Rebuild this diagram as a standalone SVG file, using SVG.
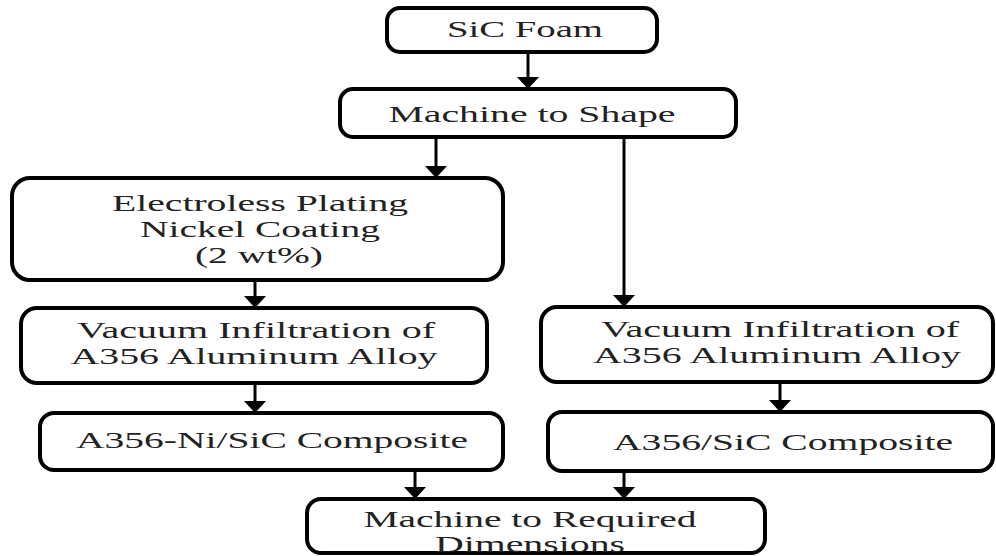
<svg xmlns="http://www.w3.org/2000/svg" width="996" height="556" viewBox="0 0 996 556">
<style>
.box{fill:#fff;stroke:#000;stroke-width:4}
.t{font-family:"Liberation Serif","Times New Roman",serif;font-size:24px;fill:#222;text-anchor:middle}
.c{stroke:#000;stroke-width:3;fill:none}
</style>
<defs>
<marker id="ah" viewBox="0 0 12 22" refX="12" refY="11" markerWidth="12" markerHeight="22" markerUnits="userSpaceOnUse" orient="auto">
<path d="M0,0 L12,11 L0,22 z" fill="#000"/>
</marker>
</defs>
<rect width="996" height="556" fill="#fff"/>
<g id="connectors">
<line class="c" x1="528" y1="52" x2="528" y2="89" marker-end="url(#ah)"/>
<line class="c" x1="436" y1="137" x2="436" y2="178" marker-end="url(#ah)"/>
<line class="c" x1="624" y1="137" x2="624" y2="307" marker-end="url(#ah)"/>
<line class="c" x1="255" y1="280" x2="255" y2="308" marker-end="url(#ah)"/>
<line class="c" x1="255" y1="383" x2="255" y2="413" marker-end="url(#ah)"/>
<line class="c" x1="780" y1="382" x2="780" y2="412" marker-end="url(#ah)"/>
<line class="c" x1="415" y1="470" x2="415" y2="499" marker-end="url(#ah)"/>
<line class="c" x1="624" y1="471" x2="624" y2="499" marker-end="url(#ah)"/>
</g>
<g id="sic-foam">
<rect class="box" x="387" y="8" width="270" height="44" rx="13"/>
<text class="t" x="525" y="37" font-size="22" textLength="156" lengthAdjust="spacingAndGlyphs">SiC Foam</text>
</g>
<g id="machine-to-shape">
<rect class="box" x="340" y="89" width="396" height="48" rx="13"/>
<text class="t" x="532" y="122" textLength="287" lengthAdjust="spacingAndGlyphs">Machine to Shape</text>
</g>
<g id="electroless">
<rect class="box" x="12" y="178" width="491" height="102" rx="18"/>
<text class="t" x="260" y="211" textLength="296" lengthAdjust="spacingAndGlyphs">Electroless Plating</text>
<text class="t" x="260" y="237" textLength="240" lengthAdjust="spacingAndGlyphs">Nickel Coating</text>
<text class="t" x="259" y="263" textLength="128" lengthAdjust="spacingAndGlyphs">(2 wt%)</text>
</g>
<g id="vacuum-left">
<rect class="box" x="21" y="308" width="466" height="75" rx="16"/>
<text class="t" x="256" y="338" textLength="358" lengthAdjust="spacingAndGlyphs">Vacuum Infiltration of</text>
<text class="t" x="254" y="364" textLength="367" lengthAdjust="spacingAndGlyphs">A356 Aluminum Alloy</text>
</g>
<g id="composite-ni">
<rect class="box" x="40" y="413" width="463" height="57" rx="14"/>
<text class="t" x="272" y="448" textLength="392" lengthAdjust="spacingAndGlyphs">A356-Ni/SiC Composite</text>
</g>
<g id="vacuum-right">
<rect class="box" x="541" y="307" width="452" height="75" rx="16"/>
<text class="t" x="780" y="337" textLength="358" lengthAdjust="spacingAndGlyphs">Vacuum Infiltration of</text>
<text class="t" x="777" y="363" textLength="368" lengthAdjust="spacingAndGlyphs">A356 Aluminum Alloy</text>
</g>
<g id="composite-sic">
<rect class="box" x="548" y="412" width="445" height="59" rx="14"/>
<text class="t" x="783" y="450" textLength="340" lengthAdjust="spacingAndGlyphs">A356/SiC Composite</text>
</g>
<g id="machine-required">
<rect class="box" x="307" y="499" width="458" height="54" rx="14"/>
<text class="t" x="530" y="527" textLength="333" lengthAdjust="spacingAndGlyphs">Machine to Required</text>
<text class="t" x="530" y="552" textLength="190" lengthAdjust="spacingAndGlyphs">Dimensions</text>
</g>
</svg>
